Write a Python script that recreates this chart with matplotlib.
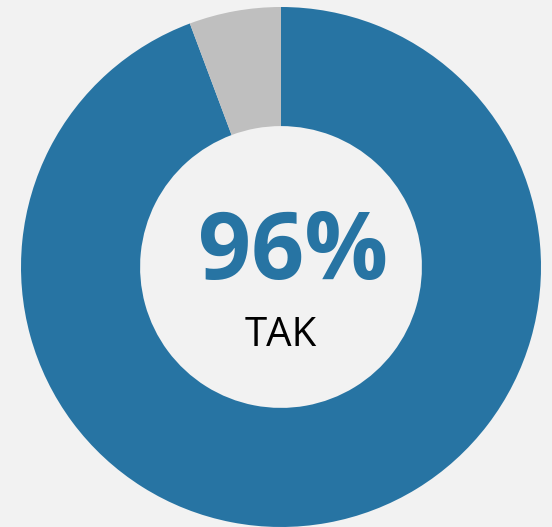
import matplotlib.pyplot as plt

# dane
labels = ['TAK', 'NIE']
values = [94.3, 5.7]
colors = ['#2774a3', '#bfbfbf']
big_text = '96%'
sub_text = 'TAK'

fig = plt.figure(figsize=(5.52, 5.27), dpi=100)
fig.patch.set_facecolor('#f2f2f2')
ax = fig.add_axes([21/552, 0, 520/552, 520/527])
ax.set_facecolor('#f2f2f2')

ax.pie(values, colors=colors, startangle=90, counterclock=False, radius=1,
       wedgeprops=dict(width=0.458, edgecolor='none'))
ax.set_xlim(-1, 1)
ax.set_ylim(-1, 1)
ax.set_aspect('equal')
ax.axis('off')

ax.text(0.045, 0.05, big_text, ha='center', va='center', fontsize=67,
        fontweight='bold', color=colors[0], family=['Open Sans', 'DejaVu Sans'])
ax.text(0.0, -0.265, sub_text, ha='center', va='center', fontsize=29,
        color='black', family=['Open Sans', 'DejaVu Sans'])

fig.savefig('out.png', dpi=100, facecolor=fig.get_facecolor())
